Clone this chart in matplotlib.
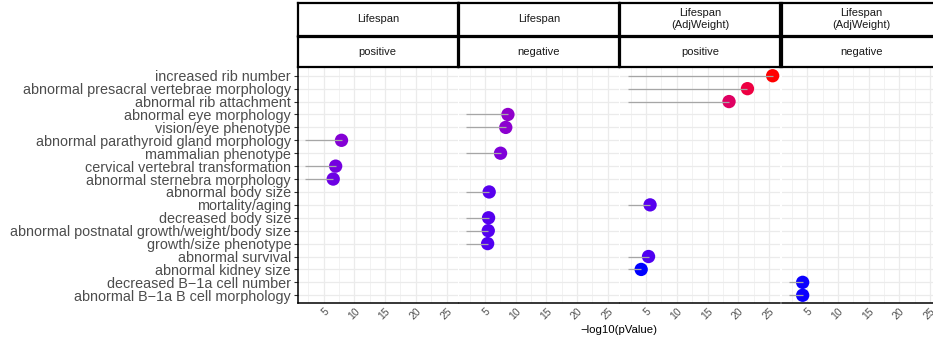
import numpy as np
import matplotlib
matplotlib.use("Agg")
import matplotlib.pyplot as plt
from matplotlib.ticker import MultipleLocator

plt.rcParams['font.family'] = ['Liberation Sans', 'DejaVu Sans']

# phenotype terms, top to bottom
terms = ["increased rib number",
         "abnormal presacral vertebrae morphology",
         "abnormal rib attachment",
         "abnormal eye morphology",
         "vision/eye phenotype",
         "abnormal parathyroid gland morphology",
         "mammalian phenotype",
         "cervical vertebral transformation",
         "abnormal sternebra morphology",
         "abnormal body size",
         "mortality/aging",
         "decreased body size",
         "abnormal postnatal growth/weight/body size",
         "growth/size phenotype",
         "abnormal survival",
         "abnormal kidney size",
         "decreased B\u22121a cell number",
         "abnormal B\u22121a B cell morphology"]

strip_top = ["Lifespan", "Lifespan", "Lifespan\n(AdjWeight)", "Lifespan\n(AdjWeight)"]
strip_bottom = ["positive", "negative", "positive", "negative"]

# -log10(pValue) for each facet
ls_pos_terms = ["abnormal parathyroid gland morphology",
                "cervical vertebral transformation",
                "abnormal sternebra morphology"]
ls_pos_vals = [7.9, 6.95, 6.55]

ls_neg_terms = ["abnormal eye morphology", "vision/eye phenotype",
                "mammalian phenotype", "abnormal body size",
                "decreased body size",
                "abnormal postnatal growth/weight/body size",
                "growth/size phenotype"]
ls_neg_vals = [8.75, 8.4, 7.55, 5.7, 5.6, 5.55, 5.45]

adj_pos_terms = ["increased rib number",
                 "abnormal presacral vertebrae morphology",
                 "abnormal rib attachment", "mortality/aging",
                 "abnormal survival", "abnormal kidney size"]
adj_pos_vals = [25.6, 21.5, 18.5, 5.65, 5.4, 4.2]

adj_neg_terms = ["decreased B\u22121a cell number",
                 "abnormal B\u22121a B cell morphology"]
adj_neg_vals = [4.25, 4.25]

seg_start = 2.0

facets = [(ls_pos_terms, ls_pos_vals), (ls_neg_terms, ls_neg_vals),
          (adj_pos_terms, adj_pos_vals), (adj_neg_terms, adj_neg_vals)]


# colour gradient blue -> red interpolated in Lab space
def srgb_to_lab(c):
    c = np.asarray(c, float)
    lin = np.where(c <= 0.04045, c / 12.92, ((c + 0.055) / 1.055) ** 2.4)
    m = np.array([[0.4124, 0.3576, 0.1805],
                  [0.2126, 0.7152, 0.0722],
                  [0.0193, 0.1192, 0.9505]])
    xyz = m @ lin / np.array([0.95047, 1.0, 1.08883])
    f = np.where(xyz > 0.008856, np.cbrt(xyz), 7.787 * xyz + 16 / 116)
    return np.array([116 * f[1] - 16, 500 * (f[0] - f[1]), 200 * (f[1] - f[2])])


def lab_to_srgb(lab):
    L, a, b = lab
    fy = (L + 16) / 116
    fx = fy + a / 500
    fz = fy - b / 200
    f = np.array([fx, fy, fz])
    xyz = np.where(f ** 3 > 0.008856, f ** 3, (f - 16 / 116) / 7.787)
    xyz = xyz * np.array([0.95047, 1.0, 1.08883])
    m = np.array([[3.2406, -1.5372, -0.4986],
                  [-0.9689, 1.8758, 0.0415],
                  [0.0557, -0.2040, 1.0570]])
    lin = np.clip(m @ xyz, 0, 1)
    c = np.where(lin <= 0.0031308, 12.92 * lin, 1.055 * lin ** (1 / 2.4) - 0.055)
    return np.clip(c, 0, 1)


lab_low = srgb_to_lab([0, 0, 1])
lab_high = srgb_to_lab([1, 0, 0])
all_vals = np.concatenate([v for _, v in facets])
vmin, vmax = all_vals.min(), all_vals.max()


def value_colour(v):
    t = (v - vmin) / (vmax - vmin)
    return lab_to_srgb(lab_low + t * (lab_high - lab_low))


# shared x scale with ggplot-like 5% expansion
lo, hi = min(seg_start, vmin), vmax
pad = 0.05 * (hi - lo)
xlim = (lo - pad, hi + pad)

W, H = 933, 343
fig = plt.figure(figsize=(W / 100, H / 100), dpi=100)

panel_w = 159.5
gap = 1.7
left0 = 298
p_top, p_bot = 68, 303
ypos = {t: len(terms) - i for i, t in enumerate(terms)}

for k, (tnames, vals) in enumerate(facets):
    x0 = left0 + k * (panel_w + gap)
    ax = fig.add_axes([x0 / W, 1 - p_bot / H, panel_w / W, (p_bot - p_top) / H])
    ax.set_xlim(*xlim)
    ax.set_ylim(0.4, len(terms) + 0.6)
    ax.xaxis.set_minor_locator(MultipleLocator(2.5))
    ax.set_xticks([5, 10, 15, 20, 25])
    ax.set_xticklabels(['5', '10', '15', '20', '25'], rotation=45,
                       ha='right', va='top', rotation_mode='anchor')
    ax.set_yticks([ypos[t] for t in terms])
    ax.grid(True, which='major', color='#ebebeb', lw=0.9)
    ax.grid(True, which='minor', axis='x', color='#f2f2f2', lw=0.7)
    ax.set_axisbelow(True)
    for s in ['top', 'right', 'left']:
        ax.spines[s].set_visible(False)
    ax.spines['bottom'].set_color('black')
    ax.spines['bottom'].set_linewidth(1.1)
    ax.tick_params(axis='x', which='both', length=0, labelsize=7.5,
                   labelcolor='#4d4d4d', pad=2)
    if k == 0:
        ax.spines['left'].set_visible(True)
        ax.spines['left'].set_color('black')
        ax.spines['left'].set_linewidth(1.1)
        ax.set_yticklabels(terms, fontsize=10.35, color='#4d4d4d')
        ax.tick_params(axis='y', length=3, color='#333333', pad=2)
    else:
        ax.tick_params(axis='y', length=0, labelleft=False)

    ys = [ypos[t] for t in tnames]
    cols = [value_colour(v) for v in vals]
    ax.scatter(vals, ys, s=92, c=cols, linewidths=0, zorder=3)
    ax.hlines(ys, seg_start, vals, color='#a6a6a6', lw=0.9, zorder=4)

    # facet strips
    for (ya, yb), txt in [((3, 36), strip_top[k]), ((37, 67), strip_bottom[k])]:
        sax = fig.add_axes([x0 / W, 1 - yb / H, panel_w / W, (yb - ya) / H])
        sax.set_xticks([])
        sax.set_yticks([])
        for s in sax.spines.values():
            s.set_color('black')
            s.set_linewidth(1.6)
        sax.text(0.5, 0.5, txt, ha='center', va='center', fontsize=8,
                 color='#1a1a1a', linespacing=1.25, transform=sax.transAxes)

fig.text(619 / W, 1 - 330 / H, "\u2212log10(pValue)", ha='center', va='center',
         fontsize=8.2, color='black')

fig.savefig("out.png", dpi=100)
